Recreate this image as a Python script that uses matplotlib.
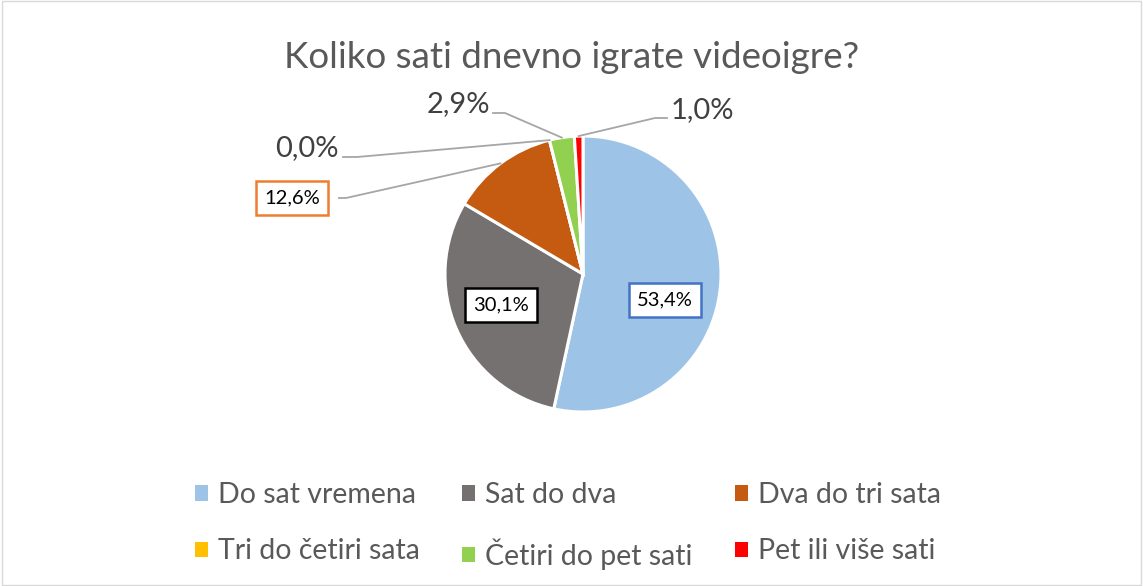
import numpy as np
import matplotlib
matplotlib.use("Agg")
import matplotlib.pyplot as plt
from matplotlib.patches import Rectangle, Patch

plt.rcParams['font.family'] = ['Lato', 'DejaVu Sans']

categories = ["Do sat vremena", "Sat do dva", "Dva do tri sata",
              "Tri do četiri sata", "Četiri do pet sati", "Pet ili više sati"]
shares = [53.4, 30.1, 12.6, 0.0, 2.9, 1.0]
colors = ["#9DC3E6", "#767171", "#C55A11", "#FFC000", "#92D050", "#FF0000"]

W, H = 1143, 586
fig = plt.figure(figsize=(W / 100, H / 100), dpi=100)
fig.patches.append(Rectangle((0.002, 0.002), 0.996, 0.996, transform=fig.transFigure,
                             fill=False, edgecolor="#D9D9D9", linewidth=1))

# pie centre / radius in pixels
cx, cy, r = 583, 274, 138
ax = fig.add_axes([0, 0, 1, 1])

ax.pie(shares, colors=colors, startangle=90, counterclock=False, radius=1,
       wedgeprops=dict(edgecolor="white", linewidth=2.2))
ax.set_xlim(-cx / r, (W - cx) / r)
ax.set_ylim(-(H - cy) / r, cy / r)
ax.set_aspect("auto")
ax.axis("off")

fig.text(0.5, 1 - 57 / H, "Koliko sati dnevno igrate videoigre?", ha="center",
         va="center", fontsize=26.5, color="#595959")

def px(x, y):
    return (x - cx) / r, (cy - y) / r

cum = np.cumsum([0] + shares[:-1])
mids = [(c + s / 2) / 100 for c, s in zip(cum, shares)]

box_labels = {0: ((665, 300), "#4472C4"), 1: ((501, 305), "black"), 2: ((292, 198), "#ED7D31")}
for i, ((lx, ly), ec) in box_labels.items():
    tx, ty = px(lx, ly)
    ax.text(tx, ty, f"{shares[i]:.1f}%".replace(".", ","), ha="center", va="center",
            fontsize=14.5, color="black",
            bbox=dict(boxstyle="square,pad=0.42", fc="white", ec=ec, lw=1.8))

outside = {3: (307, 148), 4: (458, 104), 5: (702, 110)}
for i, (lx, ly) in outside.items():
    tx, ty = px(lx, ly)
    ax.text(tx, ty, f"{shares[i]:.1f}%".replace(".", ","), ha="center", va="center",
            fontsize=21, color="#404040")

leader = {2: ((339, 198), (346, 198)), 3: ((343, 157), (357, 157)),
          4: ((493, 113), (505, 113)), 5: ((667, 118), (655, 118))}
for i, (a, b) in leader.items():
    ang = np.deg2rad(90 - 360 * mids[i])
    ex, ey = np.cos(ang), np.sin(ang)
    xa, ya = px(*a)
    xb, yb = px(*b)
    ax.plot([xa, xb, ex], [ya, yb, ey], color="#A6A6A6", lw=1.3)

order = [0, 3, 1, 4, 2, 5]
handles = [Patch(facecolor=colors[k], edgecolor="none", label=categories[k]) for k in order]
leg = fig.legend(handles=handles, ncol=3, loc="center", bbox_to_anchor=(0.497, 1 - 526 / H),
                 frameon=False, fontsize=20.5, labelcolor="#595959",
                 handlelength=0.45, handleheight=0.45, handletextpad=0.35,
                 columnspacing=1.5, labelspacing=1.07)

fig.savefig("out.png", dpi=100)
